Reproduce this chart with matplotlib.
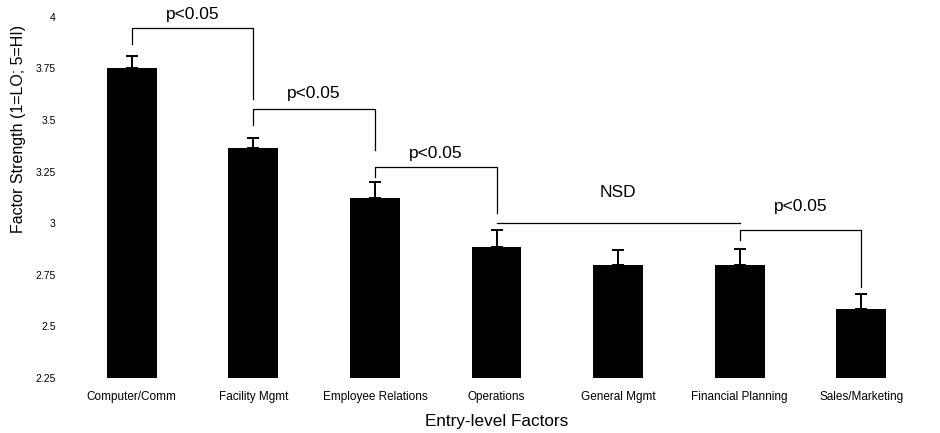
import matplotlib.pyplot as plt

plt.rcParams['font.family'] = ['Liberation Sans', 'DejaVu Sans']

factors = ['Computer/Comm', 'Facility Mgmt', 'Employee Relations', 'Operations',
           'General Mgmt', 'Financial Planning', 'Sales/Marketing']
means = [3.75, 3.365, 3.12, 2.885, 2.80, 2.80, 2.585]
errs = [0.06, 0.05, 0.08, 0.08, 0.068, 0.075, 0.072]
yticks = [2.25, 2.5, 2.75, 3, 3.25, 3.5, 3.75, 4]
ytick_labels = ['2.25', '2.5', '2.75', '3', '3.25', '3.5', '3.75', '4']

# brackets: (left bar, right bar, top y, left drop y, right drop y, label, label y)
brackets = [
    (0, 1, 3.947, 3.87, 3.60, 'p<0.05', 4.01),
    (1, 2, 3.554, 3.476, 3.355, 'p<0.05', 3.63),
    (2, 3, 3.273, 3.224, 3.05, 'p<0.05', 3.34),
    (5, 6, 2.967, 2.919, 2.69, 'p<0.05', 3.08),
]
nsd = (3, 5, 3.001, 'NSD', 3.147)

fig = plt.figure(figsize=(9.4, 4.33), dpi=100)
ax = fig.add_axes([0.0755, 0.127, 0.9055, 0.834])

x = list(range(len(factors)))
ax.bar(x, means, width=0.41, color='black', zorder=2)
ax.errorbar(x, means, yerr=[[0] * len(errs), errs], fmt='none', ecolor='black',
            elinewidth=1.4, capsize=4.5, capthick=1.4, zorder=3)

for l, r, top, ly, ry, txt, ty in brackets:
    ax.plot([l, l, r, r], [ly, top, top, ry], color='black', lw=0.9, clip_on=False)
    ax.text((l + r) / 2, ty, txt, ha='center', va='center', fontsize=12.5, clip_on=False)

l, r, yy, txt, ty = nsd
ax.plot([l, r], [yy, yy], color='black', lw=0.9)
ax.text((l + r) / 2, ty, txt, ha='center', va='center', fontsize=12.5)

ax.set_xlim(-0.5, 6.5)
ax.set_ylim(2.25, 4)
ax.set_xticks(x)
ax.set_xticklabels(factors, fontsize=8.5)
ax.set_yticks(yticks)
ax.set_yticklabels(ytick_labels, fontsize=7.5)
ax.tick_params(length=0)
ax.tick_params(axis='y', pad=11)
ax.tick_params(axis='x', pad=9)
for s in ax.spines.values():
    s.set_visible(False)

ax.set_ylabel('Factor Strength (1=LO; 5=HI)', fontsize=11.5)
ax.yaxis.set_label_coords(-0.053, 0.69)
ax.set_xlabel('Entry-level Factors', fontsize=12.3)
ax.xaxis.set_label_coords(0.5, -0.1)

fig.savefig('out.png', dpi=100)
